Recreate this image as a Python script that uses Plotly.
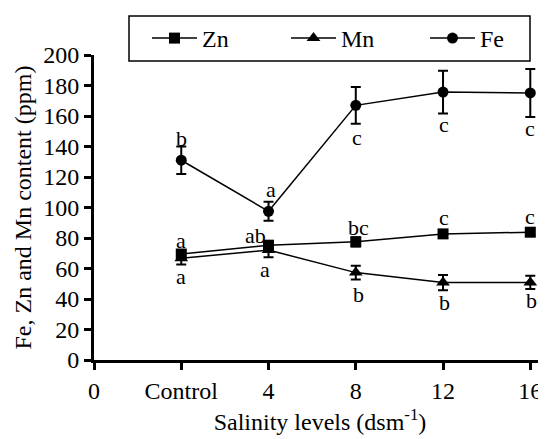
import plotly.graph_objects as go

# ---- data ----
x_pos = [1, 2, 3, 4, 5]
tick_vals = [0, 1, 2, 3, 4, 5]
tick_text = ["0", "Control", "4", "8", "12", "16"]

zn = [69.5, 75.3, 77.5, 82.7, 83.8]
zn_err = [2.5, 2.5, 3.0, 2.5, 2.0]
zn_letters = ["a", "ab", "bc", "c", "c"]

mn = [66.7, 72.1, 57.3, 50.8, 50.9]
mn_err = [4.0, 4.7, 4.5, 5.0, 4.3]
mn_letters = ["a", "a", "b", "b", "b"]

fe = [131.0, 97.5, 167.0, 175.7, 175.1]
fe_err = [9.0, 6.2, 12.0, 14.0, 15.8]
fe_letters = ["b", "a", "c", "c", "c"]

# label offsets (pixels, positive = up) and small x nudges (axis units)
zn_shift = [14, 10, 14, 16, 16]
zn_dx = [0.0, -0.15, 0.03, 0.01, 0.0]
mn_shift = [-18, -19, -22, -20, -18]
mn_dx = [0.0, -0.04, 0.03, 0.02, 0.01]
fe_shift = [22, 22, -32, -32, -36]
fe_dx = [0.0, 0.03, 0.01, 0.01, 0.0]

FONT = "Liberation Serif, Times New Roman, Times, serif"
PAGE_OFFSET = 8  # browser body margin

fig = go.Figure()

def add_series(name, y, err, symbol, rank):
    fig.add_trace(go.Scatter(
        x=x_pos, y=y, name=name, mode="lines+markers",
        line=dict(color="black", width=1.5),
        marker=dict(symbol=symbol, size=11 if symbol != "triangle-up" else 12, color="black"),
        error_y=dict(type="data", array=err, visible=True, color="black", thickness=2, width=5),
        legendrank=rank,
    ))

add_series("Mn", mn, mn_err, "triangle-up", 2)
add_series("Zn", zn, zn_err, "square", 1)
add_series("Fe", fe, fe_err, "circle", 3)

for vals, letters, shifts, dxs in [(zn, zn_letters, zn_shift, zn_dx),
                                   (mn, mn_letters, mn_shift, mn_dx),
                                   (fe, fe_letters, fe_shift, fe_dx)]:
    for xi, v, t, s, d in zip(x_pos, vals, letters, shifts, dxs):
        fig.add_annotation(x=xi + d, y=v, text=t, showarrow=False, yshift=s,
                           xanchor="center", yanchor="middle",
                           font=dict(family=FONT, size=22, color="black"))

W, H = 546 - PAGE_OFFSET, 439 - PAGE_OFFSET
ml, mt = 94 - PAGE_OFFSET, 55 - PAGE_OFFSET
mb = 439 - 360
plot_h = 360 - 55
plot_w = 546 - 94

# y-axis title as rotated annotation
fig.add_annotation(xref="paper", yref="paper", x=(22 - 94) / plot_w, y=0.5,
                   text="Fe, Zn and Mn content (ppm)", textangle=-90, showarrow=False,
                   xanchor="center", yanchor="middle",
                   font=dict(family=FONT, size=24, color="black"))

# legend frame (paper coords)
lx0 = (129 - 94) / plot_w
lx1 = (530 - 94) / plot_w
ly1 = (360 - 16) / plot_h
ly0 = (360 - 61) / plot_h
fig.add_shape(type="rect", xref="paper", yref="paper", x0=lx0, x1=lx1, y0=ly0, y1=ly1,
              line=dict(color="black", width=1.5), fillcolor="white", layer="below")

fig.update_layout(
    width=W, height=H,
    margin=dict(l=ml, r=0, t=mt, b=mb, autoexpand=False),
    paper_bgcolor="white", plot_bgcolor="white",
    font=dict(family=FONT, color="black", size=24),
    showlegend=True,
    legend=dict(orientation="h", xref="container", yref="container",
                x=(147 - PAGE_OFFSET) / W, y=1 - (38.5 - PAGE_OFFSET) / H,
                xanchor="left", yanchor="middle",
                borderwidth=0, bgcolor="rgba(0,0,0,0)",
                font=dict(family=FONT, size=24, color="black"),
                entrywidth=79, itemwidth=45),
)
fig.update_xaxes(
    range=[0, 5.18], tickmode="array", tickvals=tick_vals, ticktext=tick_text,
    showline=True, linecolor="black", linewidth=3, ticks="outside", ticklen=7,
    tickwidth=3, tickcolor="black", showgrid=False, zeroline=False,
    tickfont=dict(family=FONT, size=24, color="black"),
    title=dict(text="Salinity levels (dsm<sup>-1</sup>)", standoff=11,
               font=dict(family=FONT, size=24, color="black")),
)
fig.update_yaxes(
    range=[0, 200], tickmode="array", tickvals=list(range(0, 201, 20)),
    showline=True, linecolor="black", linewidth=3, ticks="outside", ticklen=7,
    tickwidth=3, tickcolor="black", showgrid=False, zeroline=False,
    tickfont=dict(family=FONT, size=24, color="black"),
)

fig.write_html("out.html")
